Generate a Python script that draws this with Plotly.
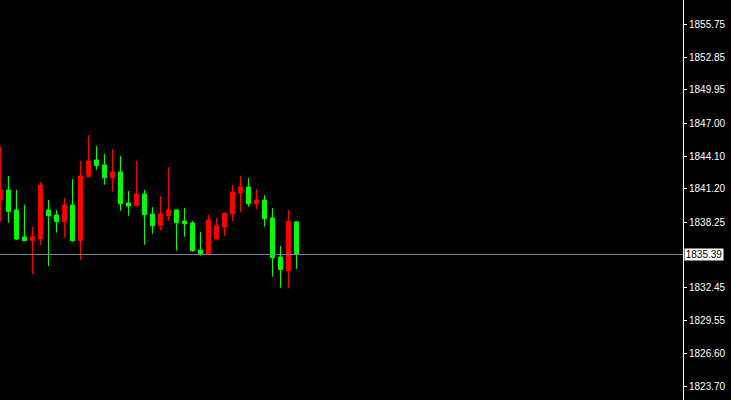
import plotly.graph_objects as go

# Candle index (bars), OHLC values
bars = list(range(38))
opens = [1840.24, 1841.10, 1839.33, 1836.94, 1836.61, 1836.76, 1839.33, 1838.88, 1838.29, 1839.77,
         1836.61, 1842.27, 1843.75, 1843.31, 1842.18, 1842.69, 1839.95, 1839.71, 1840.74, 1838.97,
         1837.94, 1838.82, 1839.33, 1838.35, 1838.18, 1835.79, 1835.43, 1836.76, 1837.82, 1838.97,
         1840.83, 1841.36, 1839.88, 1840.21, 1838.62, 1835.17, 1833.96, 1838.27]
highs = [1844.93, 1842.33, 1841.10, 1839.77, 1837.82, 1841.80, 1840.21, 1839.33, 1840.39, 1842.07,
         1843.66, 1845.96, 1844.99, 1844.28, 1844.72, 1844.10, 1841.01, 1843.66, 1841.10, 1839.59,
         1840.56, 1843.13, 1839.33, 1839.50, 1838.35, 1837.38, 1838.88, 1838.62, 1839.06, 1841.54,
         1842.33, 1842.16, 1841.18, 1840.65, 1839.50, 1836.14, 1839.33, 1838.35]
lows = [1838.29, 1838.20, 1836.67, 1836.58, 1833.66, 1836.23, 1834.37, 1837.32, 1836.88, 1836.52,
        1834.93, 1842.27, 1842.89, 1841.56, 1840.95, 1839.26, 1838.82, 1839.62, 1836.26, 1837.23,
        1837.50, 1838.38, 1835.73, 1836.96, 1835.64, 1835.28, 1835.43, 1836.76, 1837.03, 1838.35,
        1839.15, 1839.62, 1839.41, 1837.85, 1833.43, 1832.45, 1832.45, 1834.13]
closes = [1841.10, 1839.18, 1836.76, 1836.61, 1836.94, 1841.54, 1838.82, 1838.29, 1839.77, 1836.61,
          1842.33, 1843.66, 1843.25, 1842.18, 1842.69, 1839.88, 1839.68, 1840.74, 1838.91, 1837.94,
          1838.97, 1839.33, 1838.20, 1838.11, 1835.73, 1835.46, 1838.44, 1837.91, 1839.06, 1840.92,
          1841.36, 1839.88, 1840.21, 1838.56, 1835.11, 1834.05, 1838.35, 1835.39]

tick_vals = [1855.75, 1852.85, 1849.95, 1847.00, 1844.10, 1841.20, 1838.25,
             1832.45, 1829.55, 1826.60, 1823.70]
tick_text = ["%.2f" % v for v in tick_vals]
bid_price = 1835.39
y_range = [1822.52, 1857.90]
x_range = [-0.0625, 85.3125]

fig = go.Figure()
fig.add_trace(go.Candlestick(
    x=bars, open=opens, high=highs, low=lows, close=closes,
    increasing=dict(line=dict(color="#FF0000", width=1), fillcolor="#FF0000"),
    decreasing=dict(line=dict(color="#00FF00", width=1), fillcolor="#00FF00"),
    whiskerwidth=0,
    hoverinfo="skip",
))

fig.add_shape(type="line", xref="paper", x0=0, x1=1, yref="y", y0=bid_price, y1=bid_price,
              line=dict(color="#778899", width=1), layer="above")

fig.add_annotation(xref="paper", x=1, yref="y", y=bid_price, text="%.2f" % bid_price,
                   showarrow=False, xanchor="left", yanchor="middle", xshift=1,
                   bgcolor="#FFFFFF", font=dict(color="#000000", family="Liberation Sans", size=10),
                   width=38, height=11, borderpad=0, align="center")

fig.update_layout(
    width=731, height=400,
    margin=dict(l=0, r=48, t=0, b=0, autoexpand=False),
    paper_bgcolor="#000000", plot_bgcolor="#000000",
    showlegend=False,
    xaxis=dict(range=x_range, showgrid=False, zeroline=False, showticklabels=False,
               showline=False, ticks="", rangeslider=dict(visible=False), fixedrange=True),
    yaxis=dict(range=y_range, side="right", showgrid=False, zeroline=False,
               showline=True, linecolor="#FFFFFF", linewidth=1,
               ticks="outside", ticklen=3, tickcolor="#FFFFFF", tickwidth=1,
               tickvals=tick_vals, ticktext=tick_text,
               tickfont=dict(color="#FFFFFF", family="Liberation Sans", size=10),
               fixedrange=True),
)

fig.write_html("out.html", config={"displayModeBar": False},
               post_script="document.body.style.margin='0';document.body.style.background='#000';")
